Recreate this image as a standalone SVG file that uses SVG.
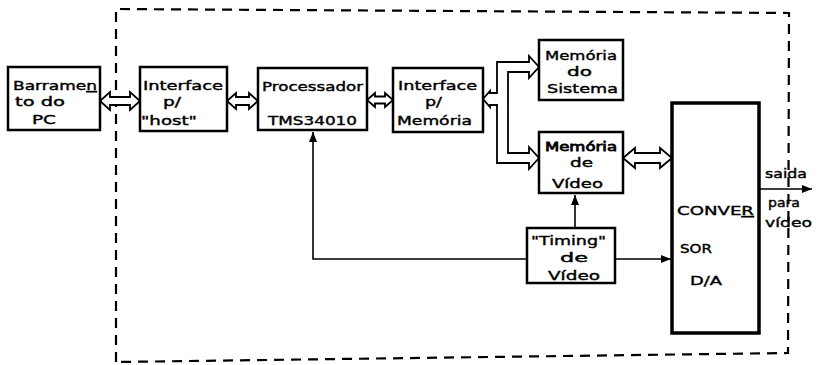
<svg xmlns="http://www.w3.org/2000/svg" width="821" height="365" viewBox="0 0 821 365">
<defs>
<style>
.box{fill:#fff;stroke:#000;stroke-width:2.5}
.thick{fill:#fff;stroke:#000;stroke-width:3.5}
.t{font-family:"DejaVu Sans","Liberation Sans",sans-serif;font-size:13px;fill:#000;stroke:#000;stroke-width:0.4}
.bus{fill:#fff;stroke:#000;stroke-width:1.8;stroke-linejoin:miter}
.ln{fill:none;stroke:#000;stroke-width:1.6}
.dash{fill:none;stroke:#000;stroke-width:2.2;stroke-dasharray:10 7}
</style>
<marker id="ah" markerUnits="userSpaceOnUse" markerWidth="12" markerHeight="10" refX="10" refY="4" orient="auto">
<path d="M0 0 L10 4 L0 8 Z" fill="#000"/>
</marker>
</defs>
<rect width="821" height="365" fill="#fff"/>
<path class="dash" d="M116 362 L116 9 L789 13 L788 353 L116 362"/>
<g id="connectors">
<path class="bus" d="M100 101 L110 92 L110 97 L130 97 L130 92 L140 101 L130 110 L130 105 L110 105 L110 110 Z"/>
<path class="bus" d="M227 101 L236 93 L236 97 L249 97 L249 93 L258 101 L249 109 L249 105 L236 105 L236 109 Z"/>
<path class="bus" d="M367 100 L375 93 L375 96.5 L385 96.5 L385 93 L393 100 L385 107 L385 103.5 L375 103.5 L375 107 Z"/>
<path class="bus" d="M483 99 L490 91 L490 93 L497 93 L497 62 L529 62 L529 56 L539 67 L529 78 L529 72 L508 72 L508 153 L529 153 L529 147 L539 158 L529 169 L529 163 L497 163 L497 105 L490 105 L490 107 Z"/>
<path class="bus" d="M623 158 L635 148 L635 153 L660 153 L660 148 L672 158 L660 168 L660 163 L635 163 L635 168 Z"/>
<polyline class="ln" points="527,259 313,259 313,132" marker-end="url(#ah)"/>
<line class="ln" x1="575" y1="228" x2="575" y2="195" marker-end="url(#ah)"/>
<line class="ln" x1="615" y1="259" x2="671" y2="259" marker-end="url(#ah)"/>
<line class="ln" x1="759" y1="189" x2="812" y2="189" marker-end="url(#ah)"/>
<text class="t" x="765" y="178" textLength="42" lengthAdjust="spacingAndGlyphs">saida</text>
<text class="t" x="768" y="207" textLength="32" lengthAdjust="spacingAndGlyphs">para</text>
<text class="t" x="765" y="227" textLength="47" lengthAdjust="spacingAndGlyphs">vídeo</text>
</g>
<g id="barramento">
<rect class="box" x="8" y="67" width="92" height="63"/>
<text class="t" x="13" y="90" textLength="84" lengthAdjust="spacingAndGlyphs">Barrame<tspan text-decoration="underline">n</tspan></text>
<text class="t" x="15" y="106" textLength="50" lengthAdjust="spacingAndGlyphs">to do</text>
<text class="t" x="32" y="124" textLength="24" lengthAdjust="spacingAndGlyphs">PC</text>
</g>
<g id="interface-host">
<rect class="box" x="140" y="67" width="87" height="64"/>
<text class="t" x="143" y="90" textLength="80" lengthAdjust="spacingAndGlyphs">Interface</text>
<text class="t" x="163" y="106" textLength="18" lengthAdjust="spacingAndGlyphs">p/</text>
<text class="t" x="141" y="125" textLength="56" lengthAdjust="spacingAndGlyphs">"host"</text>
</g>
<g id="processador">
<rect class="box" x="258" y="68" width="109" height="62"/>
<text class="t" x="262" y="91" textLength="101" lengthAdjust="spacingAndGlyphs">Processador</text>
<text class="t" x="268" y="125" textLength="89" lengthAdjust="spacingAndGlyphs">TMS34010</text>
</g>
<g id="interface-memoria">
<rect class="box" x="393" y="68" width="90" height="64"/>
<text class="t" x="398" y="90" textLength="79" lengthAdjust="spacingAndGlyphs">Interface</text>
<text class="t" x="425" y="106" textLength="17" lengthAdjust="spacingAndGlyphs">p/</text>
<text class="t" x="397" y="125" textLength="75" lengthAdjust="spacingAndGlyphs">Memória</text>
</g>
<g id="memoria-sistema">
<rect class="box" x="539" y="40" width="84" height="60"/>
<text class="t" x="545" y="60" textLength="72" lengthAdjust="spacingAndGlyphs">Memória</text>
<text class="t" x="567" y="76" textLength="25" lengthAdjust="spacingAndGlyphs">do</text>
<text class="t" x="547" y="93" textLength="71" lengthAdjust="spacingAndGlyphs">Sistema</text>
</g>
<g id="memoria-video">
<rect class="box" x="539" y="132" width="84" height="61"/>
<text class="t" x="545" y="151" textLength="72" lengthAdjust="spacingAndGlyphs" style="stroke-width:0.8">Memória</text>
<text class="t" x="570" y="167" textLength="23" lengthAdjust="spacingAndGlyphs">de</text>
<text class="t" x="552" y="188" textLength="51" lengthAdjust="spacingAndGlyphs">Vídeo</text>
</g>
<g id="timing-video">
<rect class="box" x="527" y="228" width="88" height="55"/>
<text class="t" x="531" y="245" textLength="75" lengthAdjust="spacingAndGlyphs">"Timing"</text>
<text class="t" x="560" y="262" textLength="28" lengthAdjust="spacingAndGlyphs">de</text>
<text class="t" x="548" y="280" textLength="52" lengthAdjust="spacingAndGlyphs">Vídeo</text>
</g>
<g id="conversor">
<rect class="thick" x="672" y="103" width="87" height="230"/>
<text class="t" x="677" y="215" textLength="77" lengthAdjust="spacingAndGlyphs">CONVE<tspan text-decoration="underline">R</tspan></text>
<text class="t" x="680" y="253" textLength="32" lengthAdjust="spacingAndGlyphs">SOR</text>
<text class="t" x="690" y="285" textLength="32" lengthAdjust="spacingAndGlyphs">D/A</text>
</g>
</svg>
